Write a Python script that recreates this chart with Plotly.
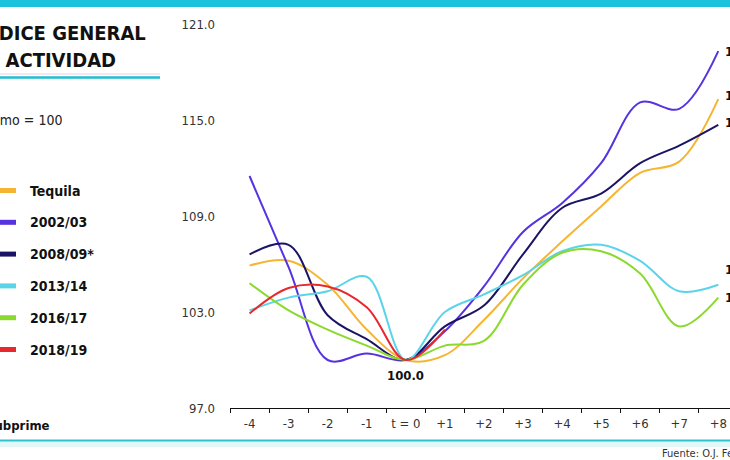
import plotly.graph_objects as go

# ---------------- data ----------------
periods = ["-4", "-3", "-2", "-1", "t = 0", "+1", "+2", "+3", "+4", "+5", "+6", "+7", "+8"]
tequila = [105.9, 106.2, 104.7, 101.9, 100.0, 100.3, 102.5, 105.1, 107.4, 109.6, 111.7, 112.4, 116.3]
s2002 = [111.5, 105.8, 100.0, 100.4, 100.0, 101.8, 104.6, 108.0, 109.8, 112.3, 116.1, 115.7, 119.3]
s2008 = [106.6, 107.2, 102.8, 101.3, 100.0, 102.1, 103.4, 106.6, 109.5, 110.4, 112.3, 113.4, 114.7]
s2013 = [103.1, 103.9, 104.3, 105.2, 100.0, 103.0, 104.1, 105.3, 106.8, 107.2, 106.2, 104.3, 104.7]
s2016 = [104.8, 103.1, 101.9, 100.9, 100.0, 100.9, 101.2, 104.7, 106.7, 106.8, 105.4, 102.1, 103.9]
s2018 = [102.9, 104.5, 104.6, 103.3, 100.0, 101.9]

names = ["Tequila", "2002/03", "2008/09*", "2013/14", "2016/17", "2018/19"]
values = [tequila, s2002, s2008, s2013, s2016, s2018]
colors = ["#f5b532", "#5533e0", "#1b1464", "#5ad4e8", "#8ad92c", "#e8282e"]
end_label_shift = [4, 0, 2, 15, 0, None]   # vertical offsets of end labels (px)

y_ticks = [97, 103, 109, 115, 121]
y_ticktext = ["97.0", "103.0", "109.0", "115.0", "121.0"]

title_lines = ["ÍNDICE GENERAL", "DE ACTIVIDAD"]
subtitle = "Mínimo = 100"
footnote = "*Subprime"
source = "Fuente: O.J. Ferreira"

# ---------------- layout helpers ----------------
W, H = 730, 460
ML, MR, MT, MB = 230, 0, 24, 52
PW, PH = W - ML - MR, H - MT - MB
Y0, Y1 = 97, 121


def px(x):
    return (x - ML) / PW


def py(y):
    return (H - MB - y) / PH


def pv(v):
    """data value -> paper y"""
    return (v - Y0) / (Y1 - Y0)


COND = "DejaVu Sans Condensed, Liberation Sans Narrow, sans-serif"

fig = go.Figure()
for name, vals, col in zip(names, values, colors):
    fig.add_trace(go.Scatter(
        x=periods[:len(vals)], y=vals, mode="lines", name=name,
        line=dict(color=col, width=2, shape="spline", smoothing=1.0),
        hoverinfo="skip", showlegend=False,
    ))

annotations = []
shapes = []

# end labels (right edge, mostly cut off as in the reference)
for vals, sh in zip(values, end_label_shift):
    if sh is None or len(vals) < len(periods):
        continue
    annotations.append(dict(
        x=px(723), y=pv(vals[-1]), xref="paper", yref="paper",
        text=f"<b>{vals[-1]:.1f}</b>", showarrow=False,
        xanchor="left", yanchor="middle", yshift=sh,
        font=dict(family=COND, size=13, color="#111111"),
    ))

# 100.0 label at t = 0
annotations.append(dict(
    x=periods[4], y=100.0, xref="x", yref="y", text="<b>100.0</b>",
    showarrow=False, xanchor="center", yanchor="middle", yshift=-15,
    font=dict(family=COND, size=13, color="#111111"),
))

# title
annotations.append(dict(
    x=px(148), y=py(33), xref="paper", yref="paper", text=f"<b>{title_lines[0]}</b>",
    showarrow=False, xanchor="right", yanchor="middle",
    font=dict(family=COND, size=20, color="#111111"),
))
annotations.append(dict(
    x=px(118), y=py(60), xref="paper", yref="paper", text=f"<b>{title_lines[1]}</b>",
    showarrow=False, xanchor="right", yanchor="middle",
    font=dict(family=COND, size=20, color="#111111"),
))
# subtitle
annotations.append(dict(
    x=px(64), y=py(120), xref="paper", yref="paper", text=subtitle,
    showarrow=False, xanchor="right", yanchor="middle",
    font=dict(family=COND, size=14, color="#222222"),
))

# legend (manual)
legend_y0, legend_dy = 190.5, 31.8
for i, (name, col) in enumerate(zip(names, colors)):
    yy = legend_y0 + i * legend_dy
    shapes.append(dict(type="line", xref="paper", yref="paper",
                       x0=px(-6), x1=px(16), y0=py(yy), y1=py(yy),
                       line=dict(color=col, width=5)))
    annotations.append(dict(
        x=px(28), y=py(yy), xref="paper", yref="paper", text=f"<b>{name}</b>",
        showarrow=False, xanchor="left", yanchor="middle",
        font=dict(family=COND, size=14, color="#111111"),
    ))

# footnote
annotations.append(dict(
    x=px(52), y=py(425), xref="paper", yref="paper", text=f"<b>{footnote}</b>",
    showarrow=False, xanchor="right", yanchor="middle",
    font=dict(family=COND, size=13, color="#111111"),
))
# source
annotations.append(dict(
    x=px(660), y=py(453), xref="paper", yref="paper", text=source,
    showarrow=False, xanchor="left", yanchor="middle",
    font=dict(family=COND, size=11, color="#333333"),
))

# decorative bars / rules
shapes.append(dict(type="rect", xref="paper", yref="paper", x0=px(-5), x1=px(W + 5),
                   y0=py(0), y1=py(7), fillcolor="#1ac2dc", line=dict(width=0), layer="below"))
shapes.append(dict(type="line", xref="paper", yref="paper", x0=px(-5), x1=px(160),
                   y0=py(74), y1=py(74), line=dict(color="#f6dcef", width=1.5)))
shapes.append(dict(type="line", xref="paper", yref="paper", x0=px(-5), x1=px(160),
                   y0=py(77.5), y1=py(77.5), line=dict(color="#1cbfd0", width=2.5)))
shapes.append(dict(type="rect", xref="paper", yref="paper", x0=px(-5), x1=px(W + 5),
                   y0=py(441), y1=py(447), fillcolor="#e3f7f9", line=dict(width=0), layer="below"))
shapes.append(dict(type="line", xref="paper", yref="paper", x0=px(-5), x1=px(W + 5),
                   y0=py(440.5), y1=py(440.5), line=dict(color="#2cc3cf", width=2)))

fig.update_layout(
    width=W, height=H,
    margin=dict(l=ML, r=MR, t=MT, b=MB),
    paper_bgcolor="white", plot_bgcolor="white",
    showlegend=False,
    annotations=annotations, shapes=shapes,
    xaxis=dict(
        type="category", categoryorder="array", categoryarray=periods,
        range=[-0.5, 12.3], showgrid=False, zeroline=False,
        showline=True, linecolor="#111111", linewidth=1,
        ticks="outside", tickson="boundaries", ticklen=4, tickcolor="#111111",
        ticklabelstandoff=3,
        tickfont=dict(family=COND, size=13, color="#333333"),
        fixedrange=True,
    ),
    yaxis=dict(
        range=[Y0, Y1], tickvals=y_ticks, ticktext=y_ticktext,
        showgrid=False, zeroline=False, showline=False, ticks="",
        ticklabelstandoff=14,
        tickfont=dict(family=COND, size=13, color="#333333"),
        fixedrange=True,
    ),
)

fig.write_html("out.html")
